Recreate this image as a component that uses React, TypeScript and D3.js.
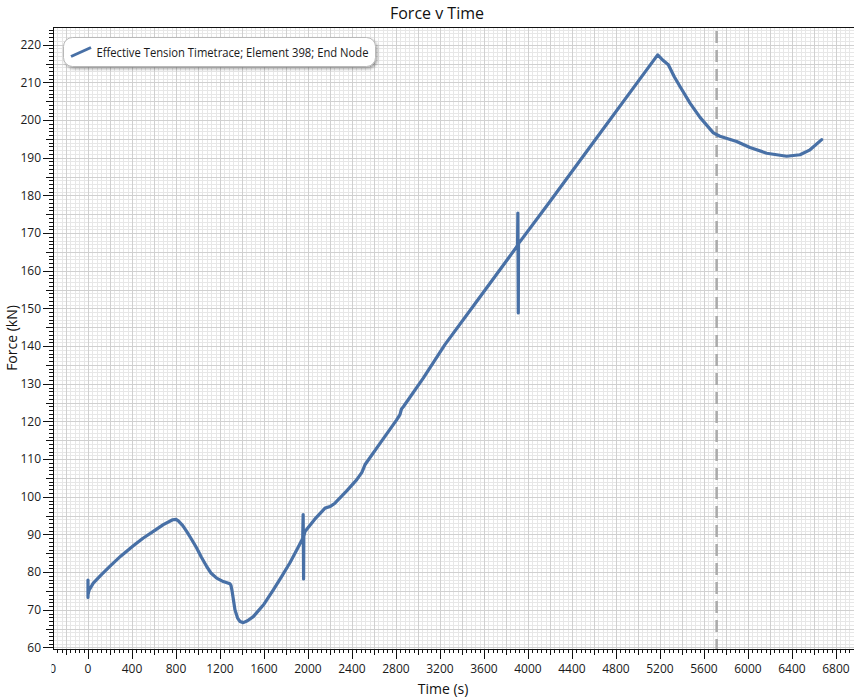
import React from "react";
import * as d3 from "d3";

// ---- data ----
const timeS = [0, 0, 0, 10, 48, 120, 215, 300, 412, 500, 594, 685, 770, 800, 821, 860, 897, 940, 988, 1030, 1079, 1120, 1170, 1230, 1291, 1300, 1310, 1336, 1360, 1382, 1412, 1450, 1503, 1600, 1685, 1760, 1836, 1900, 1952, 1956, 1958, 1960, 1962, 1973, 2060, 2155, 2200, 2245, 2350, 2442, 2490, 2518, 2650, 2806, 2836, 2850, 2867, 3048, 3245, 3500, 3891, 3905, 3908, 3912, 3914, 4200, 4600, 5000, 5179, 5230, 5276, 5330, 5382, 5473, 5564, 5685, 5745, 5897, 6018, 6170, 6352, 6473, 6564, 6670];
const forceKN = [73.3, 77.9, 74.0, 75.2, 77.1, 79.3, 82.0, 84.3, 87.0, 89.0, 90.8, 92.6, 93.9, 94.0, 93.6, 92.4, 90.8, 88.8, 86.4, 84.0, 81.5, 79.7, 78.4, 77.5, 76.9, 76.5, 75.0, 70.0, 67.8, 66.9, 66.6, 67.1, 68.2, 71.5, 75.3, 78.8, 82.5, 86.0, 88.9, 95.3, 88.5, 78.2, 89.5, 90.8, 94.0, 97.0, 97.4, 98.3, 101.5, 104.5, 106.5, 108.5, 114.0, 120.4, 121.8, 123.3, 123.9, 131.5, 140.4, 150.5, 166.1, 166.7, 175.3, 148.8, 167.2, 178.4, 194.3, 210.2, 217.3, 215.8, 214.7, 211.5, 208.9, 204.5, 200.7, 196.6, 195.7, 194.3, 192.7, 191.2, 190.4, 190.8, 192.1, 194.8];
const markerTime = 5715;
const xTickValues = [-400, 0, 400, 800, 1200, 1600, 2000, 2400, 2800, 3200, 3600, 4000, 4400, 4800, 5200, 5600, 6000, 6400, 6800];
const yTickValues = [60, 70, 80, 90, 100, 110, 120, 130, 140, 150, 160, 170, 180, 190, 200, 210, 220];
const xDomain = [-318, 6982];
const yDomain = [59.6, 224.7];
const titleText = "Force v Time";
const xLabel = "Time (s)";
const yLabel = "Force (kN)";
const seriesName = "Effective Tension Timetrace; Element 398; End Node";

const W = 854;
const H = 700;
const left = 53;
const right = 856;
const top = 27;
const bottom = 649;
const FONT = "'Open Sans', 'Noto Sans', sans-serif";
const LINE = "#4870a6";

export default function App() {
  const x = d3.scaleLinear().domain(xDomain).range([left, right]);
  const y = d3.scaleLinear().domain(yDomain).range([bottom, top]);
  const pts = timeS.map((t, i) => [t, forceKN[i]] as [number, number]);
  const line = d3
    .line<[number, number]>()
    .x((d) => x(d[0]))
    .y((d) => y(d[1]))
    .curve(d3.curveLinear);

  const xMinor = d3.range(-400, 7200, 40).filter((v) => v >= xDomain[0] && v <= xDomain[1]);
  const xMid = d3.range(-400, 7200, 200).filter((v) => v >= xDomain[0] && v <= xDomain[1]);
  const yMinor = d3.range(60, 226, 1).filter((v) => v >= yDomain[0] && v <= yDomain[1]);
  const yMid = d3.range(60, 226, 5).filter((v) => v >= yDomain[0] && v <= yDomain[1]);

  const px = (v: number) => Math.round(v) + 0.5;

  return (
    <svg
      width={W}
      height={H}
      style={{ position: "absolute", left: 0, top: 0, background: "#fff" }}
      fontFamily={FONT}
    >
      <defs>
        <clipPath id="plot">
          <rect x={left} y={top} width={right - left} height={bottom - top} />
        </clipPath>
        <clipPath id="xlab">
          <rect x={left - 1.5} y={bottom} width={W} height={H - bottom} />
        </clipPath>
        <filter id="shadow" x="-10%" y="-30%" width="120%" height="180%">
          <feDropShadow dx="1.5" dy="2" stdDeviation="1.6" floodColor="#000" floodOpacity="0.35" />
        </filter>
      </defs>
      <rect x={0} y={0} width={W} height={H} fill="#fff" />
      <g clipPath="url(#plot)" shapeRendering="crispEdges">
        {xMinor.map((v) => (
          <line key={"xm" + v} x1={px(x(v))} x2={px(x(v))} y1={top} y2={bottom} stroke="#e7e7e7" />
        ))}
        {yMinor.map((v) => (
          <line key={"ym" + v} x1={left} x2={right} y1={px(y(v))} y2={px(y(v))} stroke="#e7e7e7" />
        ))}
        {xMid.map((v) => (
          <line key={"xM" + v} x1={px(x(v))} x2={px(x(v))} y1={top} y2={bottom} stroke="#d0d0d0" />
        ))}
        {yMid.map((v) => (
          <line key={"yM" + v} x1={left} x2={right} y1={px(y(v))} y2={px(y(v))} stroke="#d0d0d0" />
        ))}
      </g>
      <g clipPath="url(#plot)">
        <line
          x1={x(markerTime)}
          x2={x(markerTime)}
          y1={top + 4}
          y2={bottom}
          stroke="#ababab"
          strokeWidth={2.5}
          strokeDasharray="12 7"
        />
        <path
          d={line(pts) || ""}
          fill="none"
          stroke={LINE}
          strokeWidth={3.2}
          strokeLinejoin="round"
          strokeLinecap="round"
        />
      </g>
      {/* axes frame */}
      <g shapeRendering="crispEdges" stroke="#111">
        <line x1={left + 0.5} x2={left + 0.5} y1={top} y2={bottom + 1} />
        <line x1={left} x2={W} y1={top + 0.5} y2={top + 0.5} />
        <line x1={left} x2={W} y1={bottom + 0.5} y2={bottom + 0.5} />
        {yMinor.map((v) => (
          <line key={"yt" + v} x1={left - (v % 10 === 0 ? 10 : v % 5 === 0 ? 7 : 4)} x2={left} y1={px(y(v))} y2={px(y(v))} />
        ))}
        {xMinor.map((v) => (
          <line key={"xt" + v} x1={px(x(v))} x2={px(x(v))} y1={bottom} y2={bottom + (v % 400 === 0 ? 10 : v % 200 === 0 ? 6 : 4)} />
        ))}
      </g>
      {/* tick labels */}
      <g fontSize={12} fill="#1a1a1a">
        {yTickValues.map((v) => (
          <text key={"yl" + v} x={left - 12} y={y(v)} dy="0.35em" textAnchor="end">
            {v}
          </text>
        ))}
        <g clipPath="url(#xlab)">
          {xTickValues.map((v) => (
            <text key={"xl" + v} x={x(v)} y={bottom + 24} textAnchor="middle">
              {v}
            </text>
          ))}
        </g>
      </g>
      {/* titles */}
      <text x={437} y={19} textAnchor="middle" fontSize={16} fill="#111">
        {titleText}
      </text>
      <text x={443} y={694} textAnchor="middle" fontSize={14} fill="#111">
        {xLabel}
      </text>
      <text
        transform={`translate(17,${(top + bottom) / 2}) rotate(-90)`}
        textAnchor="middle"
        fontSize={14}
        fill="#111"
      >
        {yLabel}
      </text>
      {/* legend */}
      <g>
        <rect x={63.5} y={37.5} width={312} height={29} rx={9} ry={9} fill="#fff" stroke="#b8b8b8" filter="url(#shadow)" />
        <line x1={71} y1={56.5} x2={91} y2={47.5} stroke={LINE} strokeWidth={3} />
        <text x={96.5} y={56.5} fontSize={12.5} fill="#1a1a1a" textLength={272} lengthAdjust="spacingAndGlyphs">
          {seriesName}
        </text>
      </g>
    </svg>
  );
}
